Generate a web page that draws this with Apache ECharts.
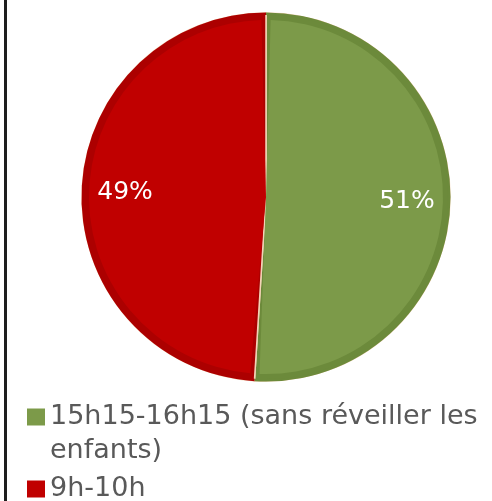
<!DOCTYPE html>
<html>
<head>
<meta charset="utf-8">
<script src="https://cdn.jsdelivr.net/npm/echarts@6/dist/echarts.min.js"></script>
<style>
  html, body { margin: 0; padding: 0; background: #fff; }
  #wrap { position: relative; width: 492px; height: 501px; }
  #chart { position: absolute; left: 0; top: 0; width: 492px; height: 501px; }
  #frame { position: absolute; left: 4px; top: 0; width: 3px; height: 501px; background: #1e1e1e; }
</style>
</head>
<body>
<div id="wrap">
  <div id="chart"></div>
  <div id="frame"></div>
</div>
<script>
const categories = ['15h15-16h15 (sans réveiller les enfants)', '9h-10h'];
const values = [51, 49];
const fillColors = ['#7C9A49', '#C00000'];
const edgeColors = ['#6C8A3B', '#AC0000'];

const chart = echarts.init(document.getElementById('chart'), null, { renderer: 'canvas' });

const cx = 266, cy = 197, R = 184, Rin = 177;
const fontFam = '"DejaVu Sans", sans-serif';
const legendFontSize = 27;
const legendWrapWidth = 440;

function mk(colors) {
  return categories.map((c, i) => ({ name: c, value: values[i], itemStyle: { color: colors[i] } }));
}

// word wrap without leading spaces on continuation lines
const measureCtx = document.createElement('canvas').getContext('2d');
function wrapWords(text, font, maxW) {
  measureCtx.font = font;
  const words = text.split(' ');
  const lines = [];
  let cur = '';
  words.forEach(w => {
    const test = cur ? cur + ' ' + w : w;
    if (cur && measureCtx.measureText(test).width > maxW) {
      lines.push(cur);
      cur = w;
    } else {
      cur = test;
    }
  });
  if (cur) lines.push(cur);
  return lines;
}

const legendText = {
  fontFamily: fontFam, fontSize: legendFontSize, color: '#595959', lineHeight: 34
};

const option = {
  animation: false,
  legend: [
    {
      data: [categories[0]],
      orient: 'vertical',
      left: 22,
      top: 361,
      itemWidth: 18,
      itemHeight: 17,
      icon: 'rect',
      selectedMode: false,
      formatter: function (name) {
        const lines = wrapWords(name, legendFontSize + 'px ' + fontFam, legendWrapWidth);
        // empty first line keeps the first text line level with the square
        return '\n' + lines.join('\n');
      },
      textStyle: legendText
    },
    {
      data: [categories[1]],
      orient: 'vertical',
      left: 22,
      top: 467,
      itemWidth: 18,
      itemHeight: 17,
      icon: 'rect',
      selectedMode: false,
      textStyle: legendText
    }
  ],
  series: [
    {
      name: 'fill',
      type: 'pie',
      z: 3,
      center: [cx, cy],
      radius: [0, Rin],
      startAngle: 90,
      clockwise: true,
      padAngle: 3,
      silent: true,
      label: { show: false },
      labelLine: { show: false },
      data: mk(fillColors)
    },
    {
      name: 'edge',
      type: 'pie',
      z: 2,
      center: [cx, cy],
      radius: [0, R],
      startAngle: 90,
      clockwise: true,
      silent: true,
      itemStyle: { borderColor: '#F3D3B6', borderWidth: 1.5 },
      label: { show: false },
      labelLine: { show: false },
      data: mk(edgeColors)
    },
    {
      name: 'rim',
      type: 'pie',
      z: 3,
      center: [cx, cy],
      radius: [R - 2, R + 0.5],
      startAngle: 90,
      clockwise: true,
      silent: true,
      itemStyle: { borderWidth: 0 },
      label: { show: false },
      labelLine: { show: false },
      data: mk(edgeColors)
    },
    {
      name: 'labels',
      type: 'pie',
      z: 4,
      center: [cx, cy],
      radius: [92, R],
      startAngle: 90,
      clockwise: true,
      silent: true,
      itemStyle: { color: 'rgba(0,0,0,0)', borderWidth: 0 },
      label: {
        show: true,
        position: 'inside',
        formatter: '{c}%',
        color: '#ffffff',
        fontFamily: fontFam,
        fontSize: 25
      },
      labelLine: { show: false },
      data: categories.map((c, i) => ({ name: c, value: values[i] }))
    }
  ]
};
chart.setOption(option);
</script>
</body>
</html>
